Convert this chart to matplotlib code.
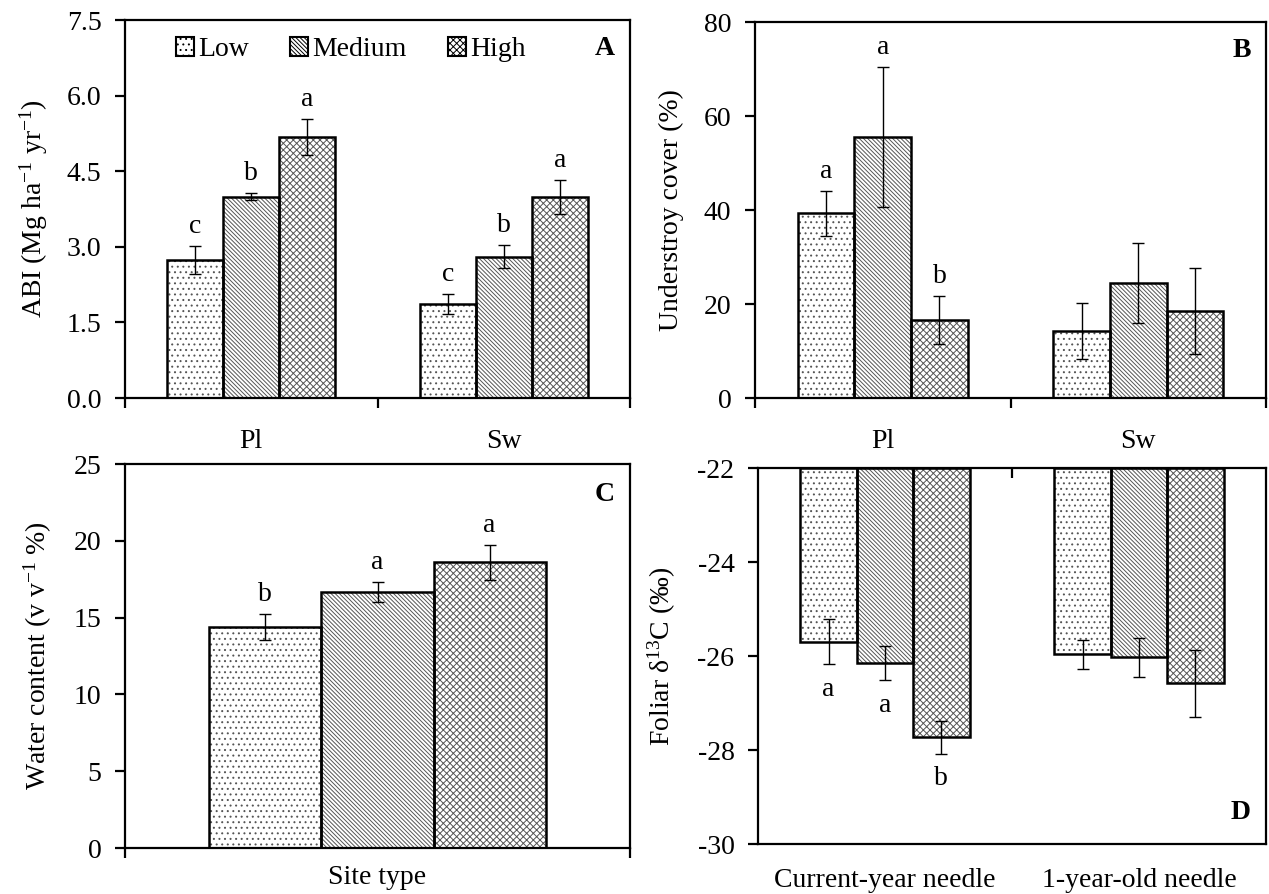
import matplotlib
matplotlib.use("Agg")
import matplotlib.pyplot as plt
from matplotlib.patches import Patch
import numpy as np

plt.rcParams['font.family'] = ['Liberation Serif', 'DejaVu Serif']
plt.rcParams['mathtext.fontset'] = 'custom'
plt.rcParams['mathtext.rm'] = 'Liberation Serif'
plt.rcParams['mathtext.it'] = 'Liberation Serif:italic'
plt.rcParams['axes.unicode_minus'] = False
plt.rcParams['hatch.linewidth'] = 0.7

# ---------------- data ----------------
levels = ['Low', 'Medium', 'High']
hatches = ['...', '\\' * 8, 'xxxxx']

sites = ['Pl', 'Sw']
abi_mean = {'Low': [2.74, 1.87], 'Medium': [3.99, 2.80], 'High': [5.18, 3.99]}
abi_err = {'Low': [0.27, 0.20], 'Medium': [0.07, 0.23], 'High': [0.36, 0.34]}
abi_letters = {'Low': ['c', 'c'], 'Medium': ['b', 'b'], 'High': ['a', 'a']}

cover_mean = {'Low': [39.3, 14.2], 'Medium': [55.5, 24.5], 'High': [16.6, 18.5]}
cover_err = {'Low': [4.8, 6.0], 'Medium': [14.9, 8.5], 'High': [5.2, 9.2]}
cover_letters = {'Low': ['a', ''], 'Medium': ['a', ''], 'High': ['b', '']}

water_mean = {'Low': [14.38], 'Medium': [16.65], 'High': [18.6]}
water_err = {'Low': [0.86], 'Medium': [0.64], 'High': [1.14]}
water_letters = {'Low': ['b'], 'Medium': ['a'], 'High': ['a']}

needles = ['Current-year needle', '1-year-old needle']
d13c_mean = {'Low': [-25.70, -25.96], 'Medium': [-26.15, -26.03], 'High': [-27.73, -26.58]}
d13c_err = {'Low': [0.48, 0.31], 'Medium': [0.37, 0.42], 'High': [0.35, 0.71]}
d13c_letters = {'Low': ['a', ''], 'Medium': ['a', ''], 'High': ['b', '']}

W, H = 1269, 894
fig = plt.figure(figsize=(W / 100, H / 100), dpi=100)


def ax_at(l, t, r, b):
    return fig.add_axes([l / W, 1 - b / H, (r - l) / W, (b - t) / H])


FS = 20
BW = 0.222


def draw_bars(ax, ncat, means, errs, letters, base=0.0, below=False):
    x = np.arange(ncat)
    for i, lev in enumerate(levels):
        xs = x + (i - 1) * BW
        m = np.array(means[lev])
        ax.bar(xs, m - base, BW, bottom=base, color='white', edgecolor='#555555',
               hatch=hatches[i], linewidth=0, zorder=2)
        ax.bar(xs, m - base, BW, bottom=base, color='none', edgecolor='black',
               linewidth=1.8, zorder=3)
        ax.errorbar(xs, m, yerr=errs[lev], fmt='none', ecolor='black',
                    elinewidth=1.0, capsize=4, capthick=1.0, zorder=4)
        for xi, mi, ei, lt in zip(xs, m, errs[lev], letters[lev]):
            if not lt:
                continue
            if below:
                ax.annotate(lt, (xi, mi - ei), xytext=(0, -9), textcoords='offset points',
                            ha='center', va='top', fontsize=FS)
            else:
                ax.annotate(lt, (xi, mi + ei), xytext=(0, 5), textcoords='offset points',
                            ha='center', va='bottom', fontsize=FS)


def style(ax):
    for s in ax.spines.values():
        s.set_linewidth(1.6)
    ax.tick_params(axis='y', which='major', direction='out', length=7, width=1.6,
                   labelsize=FS, pad=10)


def cat_axis(ax, labels):
    n = len(labels)
    ax.set_xlim(-0.5, n - 0.5)
    ax.set_xticks(np.arange(-0.5, n, 1.0))
    ax.set_xticklabels([])
    ax.set_xticks(np.arange(n), minor=True)
    ax.set_xticklabels(labels, minor=True)
    ax.tick_params(axis='x', which='major', direction='out', length=7, width=1.6)
    ax.tick_params(axis='x', which='minor', length=0, labelsize=FS, pad=22)


# ---------------- Panel A ----------------
axA = ax_at(125, 20, 630, 398)
draw_bars(axA, 2, abi_mean, abi_err, abi_letters)
axA.set_ylim(0, 7.5)
axA.set_yticks(np.arange(0, 7.6, 1.5))
axA.set_yticklabels([f'{v:.1f}' for v in np.arange(0, 7.6, 1.5)])
cat_axis(axA, sites)
style(axA)
axA.set_ylabel(r'ABI (Mg ha$^{\mathrm{-1}}$ yr$^{\mathrm{-1}}$)', fontsize=FS, labelpad=12)
axA.text(0.97, 0.925, 'A', transform=axA.transAxes, ha='right', va='center',
         fontsize=FS, fontweight='bold')
handles = [Patch(facecolor='white', edgecolor='black', hatch=hatches[i], linewidth=1.5)
           for i in range(3)]
axA.legend(handles, levels, loc='upper left', bbox_to_anchor=(0.1, 0.955), ncol=3,
           frameon=False, fontsize=FS, handlelength=0.65, handleheight=0.65,
           handletextpad=0.15, columnspacing=1.5, borderpad=0, borderaxespad=0)

# ---------------- Panel B ----------------
axB = ax_at(755, 22, 1266, 398)
draw_bars(axB, 2, cover_mean, cover_err, cover_letters)
axB.set_ylim(0, 80)
axB.set_yticks(np.arange(0, 81, 20))
cat_axis(axB, sites)
style(axB)
axB.set_ylabel('Understroy cover (%)', fontsize=FS, labelpad=14)
axB.text(0.97, 0.925, 'B', transform=axB.transAxes, ha='right', va='center',
         fontsize=FS, fontweight='bold')

# ---------------- Panel C ----------------
axC = ax_at(125, 464, 630, 848)
draw_bars(axC, 1, water_mean, water_err, water_letters)
axC.set_ylim(0, 25)
axC.set_yticks(np.arange(0, 26, 5))
axC.set_xlim(-0.5, 0.5)
axC.set_xticks([-0.5, 0.5])
axC.set_xticklabels([])
axC.tick_params(axis='x', which='major', direction='out', length=7, width=1.6)
style(axC)
axC.set_ylabel(r'Water content (v v$^{\mathrm{-1}}$ %)', fontsize=FS, labelpad=14)
axC.set_xlabel('Site type', fontsize=FS, labelpad=2)
axC.text(0.97, 0.92, 'C', transform=axC.transAxes, ha='right', va='center',
         fontsize=FS, fontweight='bold')

# ---------------- Panel D ----------------
axD = ax_at(758, 468, 1266, 844)
draw_bars(axD, 2, d13c_mean, d13c_err, d13c_letters, base=-22.0, below=True)
axD.set_ylim(-30, -22)
axD.set_yticks(np.arange(-30, -21, 2))
axD.set_xlim(-0.5, 1.5)
axD.set_xticks([0.5])
axD.set_xticklabels([])
axD.set_xticks([0, 1], minor=True)
axD.set_xticklabels(needles, minor=True)
axD.tick_params(axis='x', which='major', top=True, bottom=False, direction='in',
                length=7, width=1.6, labeltop=False, labelbottom=False)
axD.tick_params(axis='x', which='minor', bottom=True, top=False, length=0,
                labelsize=FS, pad=17)
style(axD)
axD.set_ylabel('Foliar δ$^{13}$C (‰)', fontsize=FS, labelpad=14)
axD.text(0.97, 0.085, 'D', transform=axD.transAxes, ha='right', va='center',
         fontsize=FS, fontweight='bold')

fig.savefig('out.png', dpi=100)
